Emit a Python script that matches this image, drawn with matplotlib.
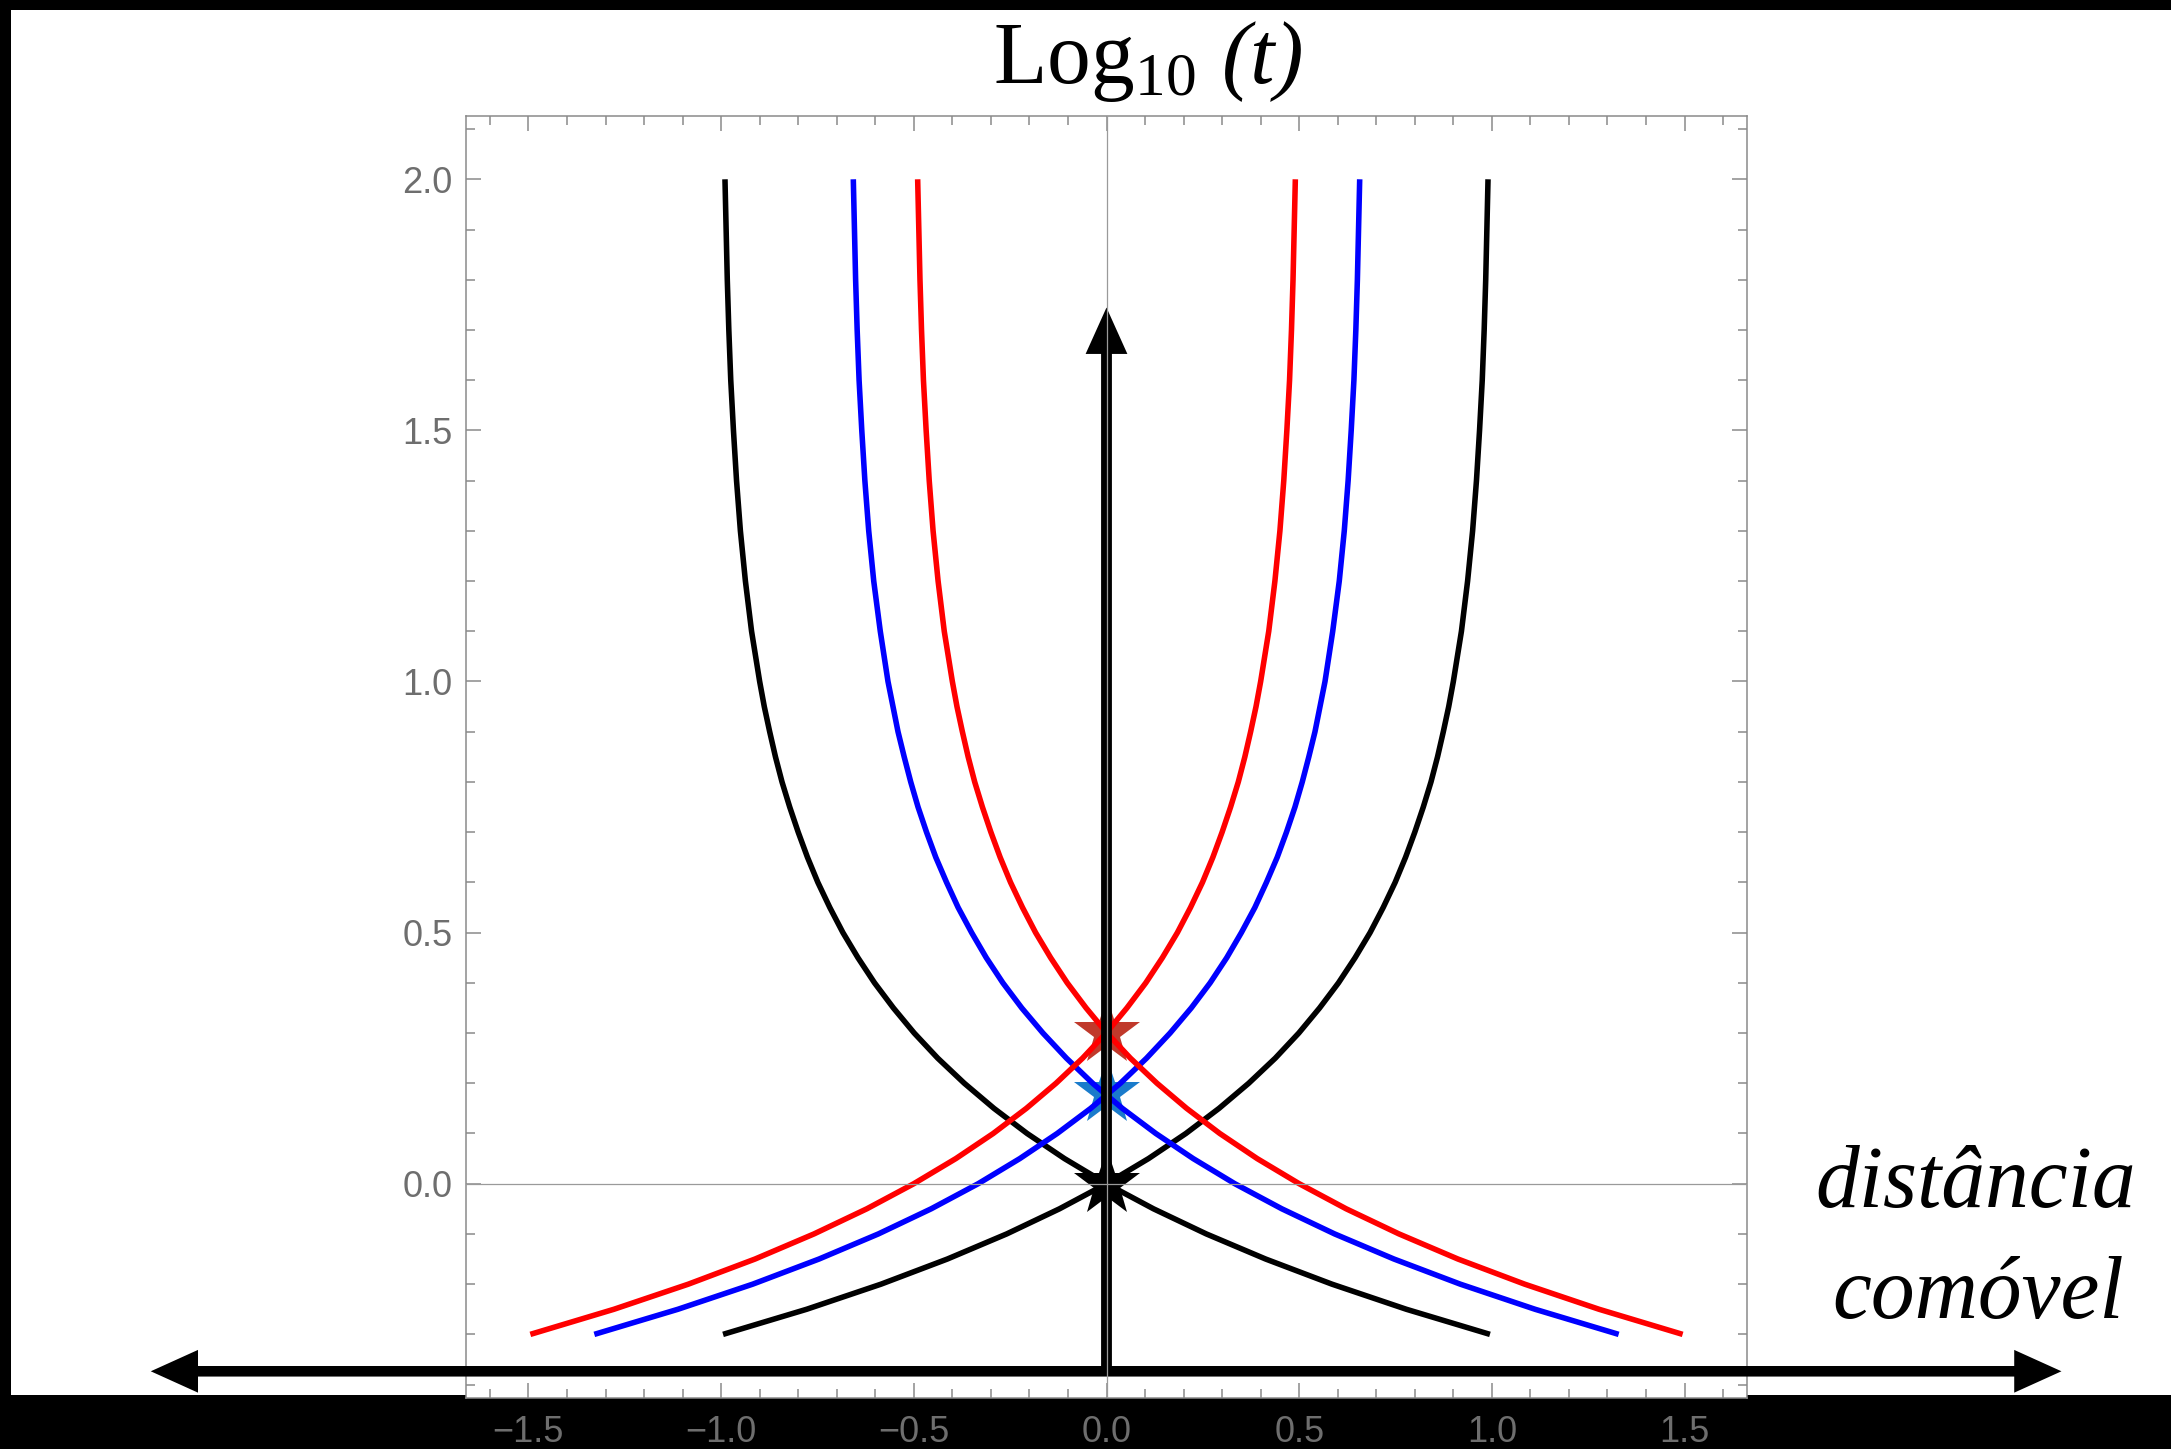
import matplotlib
matplotlib.use('Agg')
import matplotlib.pyplot as plt
from matplotlib.patches import Rectangle, FancyArrowPatch
from matplotlib.ticker import MultipleLocator
import numpy as np

plt.rcParams['mathtext.fontset'] = 'custom'
plt.rcParams['mathtext.rm'] = 'Liberation Serif'
plt.rcParams['mathtext.it'] = 'Liberation Serif:italic'

# log10(t) levels where the curves were read
y_levels = [-0.30, -0.25, -0.20, -0.15, -0.10, -0.05, 0.00, 0.05, 0.10, 0.15,
            0.20, 0.25, 0.30, 0.35, 0.40, 0.45, 0.50, 0.55, 0.60, 0.65,
            0.70, 0.75, 0.80, 0.85, 0.90, 0.95, 1.00, 1.10, 1.20, 1.30,
            1.40, 1.50, 1.60, 1.70, 1.80, 1.90, 2.00]
# comoving distance of the right-going branch (left branch is the mirror)
x_black = [-0.995, -0.778, -0.585, -0.413, -0.259, -0.122, 0.000, 0.109, 0.206, 0.292,
           0.369, 0.438, 0.499, 0.553, 0.602, 0.645, 0.684, 0.718, 0.749, 0.776,
           0.800, 0.822, 0.842, 0.859, 0.874, 0.888, 0.900, 0.921, 0.937, 0.950,
           0.960, 0.968, 0.975, 0.980, 0.984, 0.987, 0.990]
x_blue = [-1.329, -1.112, -0.918, -0.746, -0.592, -0.455, -0.333, -0.225, -0.128, -0.041,
          0.036, 0.104, 0.165, 0.220, 0.269, 0.312, 0.350, 0.385, 0.415, 0.443,
          0.467, 0.489, 0.508, 0.525, 0.541, 0.554, 0.567, 0.587, 0.604, 0.617,
          0.627, 0.635, 0.642, 0.647, 0.651, 0.654, 0.657]
x_red = [-1.495, -1.278, -1.085, -0.912, -0.759, -0.622, -0.500, -0.391, -0.294, -0.208,
         -0.131, -0.062, -0.001, 0.053, 0.102, 0.145, 0.184, 0.218, 0.249, 0.276,
         0.300, 0.322, 0.342, 0.359, 0.374, 0.388, 0.400, 0.421, 0.437, 0.450,
         0.460, 0.468, 0.475, 0.480, 0.484, 0.487, 0.490]

star_x = [0.0, 0.0, 0.0]
star_y = [0.30, 0.18, 0.0]
star_colors = ['#c0392b', '#1a7bcb', 'black']

xticks = [-1.5, -1.0, -0.5, 0.0, 0.5, 1.0, 1.5]
yticks = [0.0, 0.5, 1.0, 1.5, 2.0]

W, H = 2171, 1449
fig = plt.figure(figsize=(W / 100, H / 100), dpi=100, facecolor='black')
# white canvas inside the black border
fig.add_artist(Rectangle((11 / W, 1 - 1395 / H), 1, (1395 - 10) / H,
                         transform=fig.transFigure, facecolor='white',
                         edgecolor='none', zorder=-5))

ax = fig.add_axes([466 / W, 1 - 1397.5 / H, (1747 - 466) / W, (1397.5 - 116) / H])
ax.set_facecolor('white')
ax.set_xlim(-1.662, 1.662)
ax.set_ylim(-0.4257, 2.126)

gray = '#8a8a8a'
for s in ax.spines.values():
    s.set_color(gray)
    s.set_linewidth(1.1)

ax.set_xticks(xticks)
ax.set_yticks(yticks)
ax.xaxis.set_minor_locator(MultipleLocator(0.1))
ax.yaxis.set_minor_locator(MultipleLocator(0.1))
ax.tick_params(which='both', direction='in', top=True, right=True,
               color=gray, width=1.1, labelcolor='#6e6e6e', labelsize=26)
ax.tick_params(which='major', length=10.6)
ax.tick_params(which='minor', length=6.5)
ax.tick_params(axis='y', pad=9.5)
ax.tick_params(axis='x', pad=12.6)
ax.set_xticklabels([f'{v:.1f}'.replace('-', '\u2212') for v in xticks])
ax.set_yticklabels([f'{v:.1f}' for v in yticks])
for lab in ax.get_xticklabels() + ax.get_yticklabels():
    lab.set_fontfamily('Liberation Sans')

# stars at the observation events
for sx, sy, c in zip(star_x, star_y, star_colors):
    ax.plot(sx, sy, marker='*', markersize=50, color=c, markeredgewidth=0,
            zorder=2, clip_on=False)

# light cones
xb = np.array(x_black)
xu = np.array(x_blue)
xr = np.array(x_red)
for xs, c in [(xb, 'black'), (xu, '#0000ff'), (xr, '#ff0000')]:
    ax.plot(xs, y_levels, color=c, lw=4.0, solid_capstyle='butt', zorder=3)
    ax.plot(-xs, y_levels, color=c, lw=4.0, solid_capstyle='butt', zorder=3)

# arrows
arrow_y = -0.3735
harrow = FancyArrowPatch((-2.48, arrow_y), (2.478, arrow_y),
                         arrowstyle='<|-|>,head_length=21,head_width=9.5',
                         mutation_scale=1, lw=7.6, color='black',
                         shrinkA=0, shrinkB=0, clip_on=False, zorder=4,
                         joinstyle='miter', capstyle='butt')
ax.add_patch(harrow)
varrow = FancyArrowPatch((0, arrow_y), (0, 1.7446),
                         arrowstyle='-|>,head_length=20,head_width=9',
                         mutation_scale=1, lw=7.8, color='black',
                         shrinkA=0, shrinkB=0, clip_on=False, zorder=4,
                         joinstyle='miter', capstyle='butt')
ax.add_patch(varrow)

# thin axes lines through the origin
ax.axhline(0, color='#9a9a9a', lw=0.9, zorder=5)
ax.axvline(0, color='#9a9a9a', lw=0.9, zorder=5)

fig.text(1196 / W, 1 - 83 / H, r'$\mathrm{Log}_{\mathrm{10}}$',
         fontsize=63, ha='right', va='baseline', color='black')
fig.text(1222 / W, 1 - 83 / H, '(t)', fontsize=63, ha='left', va='baseline',
         family='Liberation Serif', style='italic', color='black')
fig.text(1976 / W, 1 - 1207 / H, 'distância', fontsize=63, ha='center',
         va='baseline', family='Liberation Serif', style='italic', color='black')
fig.text(1978 / W, 1 - 1318 / H, 'comóvel', fontsize=63, ha='center',
         va='baseline', family='Liberation Serif', style='italic', color='black')

fig.savefig('out.png', dpi=100, facecolor='black')
